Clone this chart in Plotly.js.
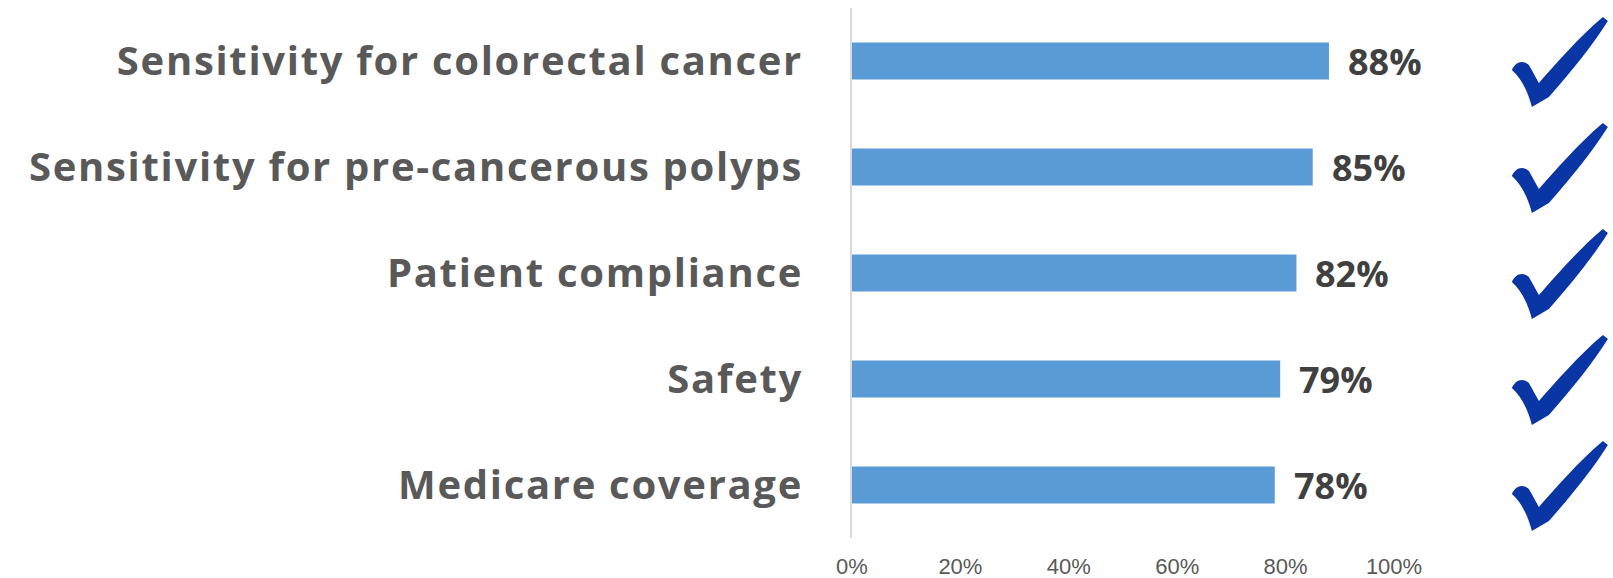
<!DOCTYPE html>
<html>
<head>
<meta charset="utf-8">
<script src="https://cdn.plot.ly/plotly-3.0.1.min.js"></script>
<style>
html,body{margin:0;padding:0;background:#fff;}
#chart{width:1613px;height:578px;}
#chart .ytick text{letter-spacing:1.7px;}
</style>
</head>
<body>
<div id="chart"></div>
<script>
var categories = [
  "Sensitivity for colorectal cancer",
  "Sensitivity for pre-cancerous polyps",
  "Patient compliance",
  "Safety",
  "Medicare coverage"
];
var values = [88, 85, 82, 79, 78];
var tickValues = [0, 20, 40, 60, 80, 100];
var tickLabels = ["0%", "20%", "40%", "60%", "80%", "100%"];

var checkPath = "M -48,-9 C -45,-2 -38,2 -31,-4 L -21,-22 C -4,-3 17,22 43,44 L 48,40 C 33,16 12,-10 -11,-36 L -28,-46 C -32,-30 -39,-17 -48,-9 Z";

var trace = {
  type: "bar",
  orientation: "h",
  x: values,
  y: categories,
  marker: {color: "#5B9BD5"},
  hoverinfo: "skip"
};

var annotations = categories.map(function(c, i){
  return {
    x: values[i], y: c, xref: "x", yref: "y",
    text: values[i] + "%",
    showarrow: false, xanchor: "left", yanchor: "middle",
    xshift: 17,
    font: {family: "Open Sans", size: 36, color: "#404040", weight: "bold"}
  };
});

var shapes = categories.map(function(c){
  return {
    type: "path", xref: "x", yref: "y",
    xsizemode: "pixel", ysizemode: "pixel",
    xanchor: 130.6, yanchor: c,
    path: checkPath,
    fillcolor: "#0A35A5",
    line: {width: 0}
  };
});

var layout = {
  width: 1613, height: 578,
  margin: {l: 852, r: 0, t: 8, b: 40},
  paper_bgcolor: "#ffffff",
  plot_bgcolor: "#ffffff",
  showlegend: false,
  bargap: 0.65,
  xaxis: {
    range: [0, 140.4],
    tickvals: tickValues,
    ticktext: tickLabels,
    showgrid: false, zeroline: false, showline: false,
    ticks: "",
    ticklabelstandoff: 13,
    tickfont: {family: "Liberation Sans", size: 22, color: "#595959"},
    fixedrange: true
  },
  yaxis: {
    type: "category",
    autorange: "reversed",
    showgrid: false, zeroline: false,
    showline: true, linecolor: "#D9D9D9", linewidth: 2,
    ticks: "",
    ticklabelstandoff: 39,
    tickfont: {family: "Open Sans", size: 40, color: "#595959", weight: "bold"},
    fixedrange: true
  },
  annotations: annotations,
  shapes: shapes
};

Plotly.newPlot("chart", [trace], layout, {displayModeBar: false, staticPlot: true});
</script>
</body>
</html>
